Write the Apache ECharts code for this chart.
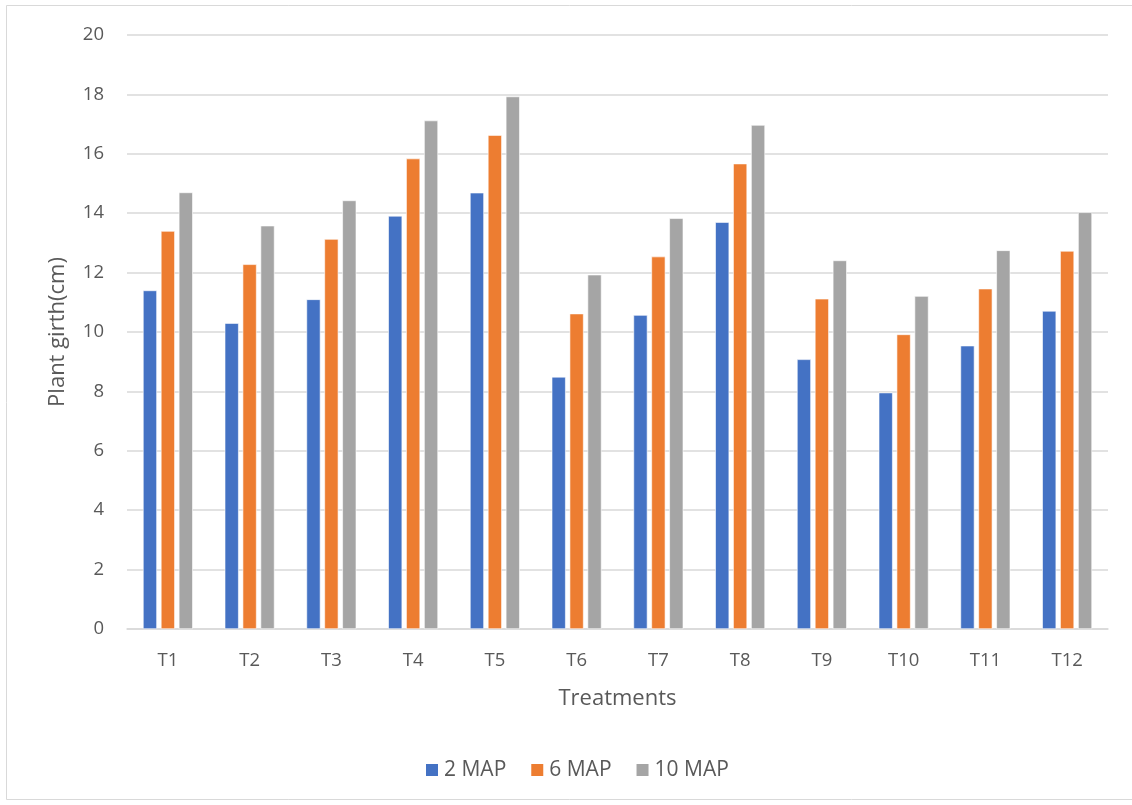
<!DOCTYPE html>
<html>
<head>
<meta charset="utf-8">
<script src="https://cdn.jsdelivr.net/npm/echarts@6/dist/echarts.min.js"></script>
<style>
  html, body { margin: 0; padding: 0; background: #fff; }
  #chart { width: 1132px; height: 805px; }
</style>
</head>
<body>
<div id="chart"></div>
<script>
// Treatments on the category axis
const categories = ['T1', 'T2', 'T3', 'T4', 'T5', 'T6', 'T7', 'T8', 'T9', 'T10', 'T11', 'T12'];

// Plant girth (cm) at 2, 6 and 10 months after planting
const map2 = [11.40, 10.30, 11.10, 13.91, 14.69, 8.49, 10.57, 13.70, 9.08, 7.96, 9.54, 10.71];
const map6 = [13.40, 12.28, 13.13, 15.84, 16.63, 10.62, 12.54, 15.67, 11.12, 9.92, 11.46, 12.73];
const map10 = [14.70, 13.58, 14.43, 17.12, 17.93, 11.93, 13.83, 16.97, 12.41, 11.21, 12.75, 14.03];

const seriesNames = ['2 MAP', '6 MAP', '10 MAP'];
const seriesColors = ['#4472C4', '#ED7D31', '#A5A5A5'];

const FONT = '"Open Sans", "Noto Sans", sans-serif';
const TEXT = '#595959';

const chart = echarts.init(document.getElementById('chart'), null, { renderer: 'canvas' });

const makeSeries = (name, data, color) => ({
  name,
  type: 'bar',
  data,
  barWidth: 14,
  barGap: '28%',
  itemStyle: { color, borderColor: '#ffffff', borderWidth: 0.6 }
});

chart.setOption({
  backgroundColor: '#ffffff',
  animation: false,
  graphic: [{
    type: 'rect',
    shape: { x: 6.5, y: 5.5, width: 1140, height: 794 },
    style: { fill: 'none', stroke: '#d9d9d9', lineWidth: 1 },
    silent: true
  }],
  grid: { left: 127, right: 24, top: 35, bottom: 176, containLabel: false },
  legend: {
    data: seriesNames,
    top: 758,
    left: 424,
    padding: 0,
    itemWidth: 14,
    itemHeight: 14,
    itemGap: 23,
    icon: 'rect',
    textStyle: { color: TEXT, fontSize: 21, fontFamily: FONT, lineHeight: 24 }
  },
  xAxis: {
    type: 'category',
    data: categories,
    name: 'Treatments',
    nameLocation: 'middle',
    nameGap: 59,
    nameTextStyle: { color: TEXT, fontSize: 22, fontFamily: FONT },
    axisLine: { lineStyle: { color: '#d9d9d9', width: 1.5 } },
    axisTick: { show: false },
    axisLabel: { color: TEXT, fontSize: 18.5, fontFamily: FONT, margin: 22 }
  },
  yAxis: {
    type: 'value',
    min: 0,
    max: 20,
    interval: 2,
    name: 'Plant girth(cm)',
    nameLocation: 'middle',
    nameGap: 58,
    nameRotate: 90,
    nameTextStyle: { color: TEXT, fontSize: 22, fontFamily: FONT },
    axisLine: { show: false },
    axisTick: { show: false },
    axisLabel: { color: TEXT, fontSize: 18.5, fontFamily: FONT, margin: 23 },
    splitLine: { lineStyle: { color: '#d9d9d9', width: 1.5 } }
  },
  series: [
    makeSeries(seriesNames[0], map2, seriesColors[0]),
    makeSeries(seriesNames[1], map6, seriesColors[1]),
    makeSeries(seriesNames[2], map10, seriesColors[2])
  ]
});
</script>
</body>
</html>
